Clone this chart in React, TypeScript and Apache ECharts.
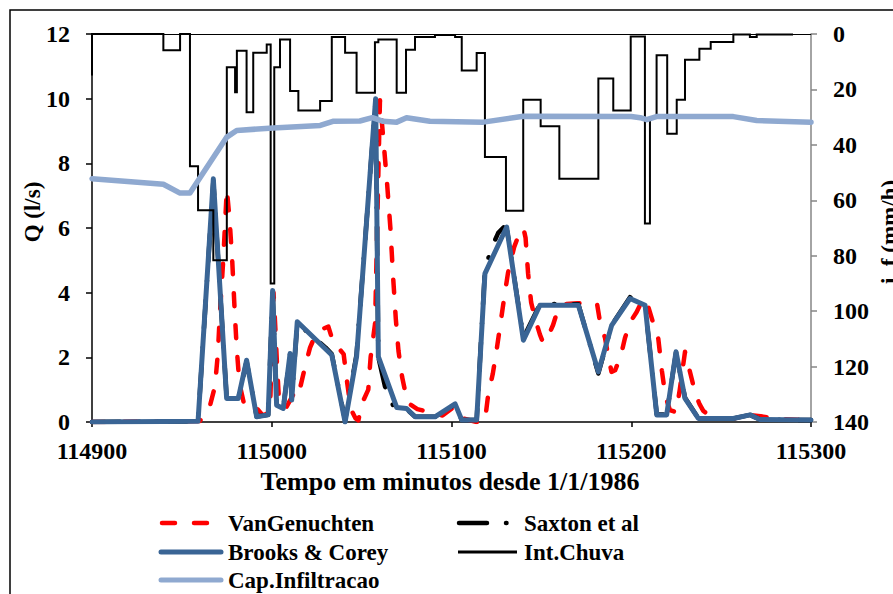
import React, { useEffect, useRef } from 'react';
import * as echarts from 'echarts';

const FONT = 'Liberation Serif, serif';

// ---- data ----
const xTicks = { min: 114900, max: 115300, interval: 100 };

const vanGenX = [114900, 114960, 114965.6, 114968.4, 114970, 114971, 114973, 114975, 114976.5, 114978, 114979.5, 114980.5, 114982, 114985, 114992, 114995, 114999, 115001, 115002, 115003, 115004, 115006, 115008, 115012, 115014.5, 115018.5, 115021.3, 115024, 115027, 115031.5, 115034, 115037, 115040, 115042, 115044, 115046.5, 115048.2, 115050, 115053.7, 115055, 115057.5, 115060.2, 115062, 115064, 115066, 115067.5, 115069, 115070.5, 115072.5, 115075.5, 115081, 115088, 115095, 115101, 115104, 115107, 115114, 115118.6, 115120.3, 115123, 115125.3, 115127, 115129.2, 115131.4, 115134.8, 115137.5, 115140, 115141.2, 115142.6, 115144.3, 115146.5, 115149.2, 115151, 115153, 115156.5, 115159.3, 115163, 115170, 115178, 115181, 115182.6, 115185.4, 115187, 115189, 115191, 115194, 115196.5, 115199.5, 115203, 115206.5, 115209, 115212, 115215, 115217, 115219, 115221.5, 115225, 115227, 115229.9, 115233.8, 115235.5, 115238, 115240, 115245, 115250, 115262, 115268, 115272, 115280, 115300];
const vanGenY = [0, 0.03, 0.5, 1.1, 2.1, 3.2, 5.0, 7.2, 6.3, 5.0, 3.3, 2.3, 1.2, 0.45, 0.4, 0.2, 0.3, 4.0, 2.9, 1.7, 0.7, 0.45, 0.45, 0.85, 0.75, 1.7, 2.3, 2.65, 2.85, 2.95, 2.5, 2.3, 2.1, 1.2, 0.4, 0.12, 0.05, 0.55, 1.0, 2.0, 3.05, 9.95, 8.8, 7.5, 6.0, 4.5, 3.2, 2.2, 1.4, 0.6, 0.4, 0.3, 0.2, 0.45, 0.4, 0.1, 0, 0.02, 0.8, 1.5, 2.3, 2.95, 3.8, 4.6, 5.4, 5.8, 6.0, 5.7, 4.6, 3.7, 3.2, 2.7, 2.45, 2.55, 3.0, 3.5, 3.65, 3.67, 3.7, 3.65, 3.1, 2.6, 2.1, 1.55, 1.6, 2.0, 2.6, 3.1, 3.4, 3.8, 3.65, 3.1, 2.6, 1.6, 0.8, 0.37, 0.3, 1.0, 2.17, 1.3, 0.9, 0.55, 0.35, 0.12, 0.1, 0.12, 0.2, 0.18, 0.1, 0.05];

const saxtonX = [114900, 114959, 114967.5, 114974.9, 114981.4, 114986, 114991.6, 114998, 115000.5, 115002.7, 115006.4, 115010.2, 115011.1, 115014.2, 115030, 115033.4, 115040.8, 115047.2, 115057.8, 115059.3, 115063, 115068, 115075, 115079.7, 115090.8, 115102, 115105.7, 115114, 115118.6, 115122, 115126, 115129, 115131, 115140, 115149.2, 115170.6, 115181.7, 115189.1, 115199.3, 115207.7, 115214.2, 115219.7, 115224.9, 115229.9, 115237.3, 115256.8, 115266.1, 115271.6, 115300];
const saxtonY = [0, 0.02, 7.45, 0.75, 0.72, 1.88, 0.17, 0.22, 4.0, 0.5, 0.43, 2.1, 0.7, 3.05, 2.3, 2.1, 0.05, 2.1, 9.95, 2.0, 1.1, 0.45, 0.4, 0.17, 0.16, 0.55, 0.06, 0.06, 4.7, 5.35, 5.85, 6.02, 5.9, 2.6, 3.65, 3.64, 1.5, 3.0, 3.86, 3.6, 0.23, 0.23, 2.15, 0.75, 0.12, 0.11, 0.22, 0.08, 0.06];

const brooksX = [114900, 114959, 114967.5, 114974.9, 114981.4, 114986, 114991.6, 114998, 115000.5, 115002.7, 115006.4, 115010.2, 115011.1, 115014.2, 115033.4, 115040.8, 115047.2, 115057.8, 115059.3, 115069.5, 115075, 115079.7, 115090.8, 115102, 115105.7, 115114, 115118.6, 115130.7, 115140, 115149.2, 115170.6, 115181.7, 115189.1, 115199.3, 115207.7, 115214.2, 115219.7, 115224.9, 115229.9, 115237.3, 115256.8, 115266.1, 115271.6, 115300];
const brooksY = [0, 0.02, 7.52, 0.73, 0.73, 1.91, 0.16, 0.22, 4.07, 0.52, 0.42, 2.12, 0.68, 3.1, 2.07, 0, 2.02, 10.0, 2.02, 0.45, 0.42, 0.16, 0.16, 0.56, 0.06, 0.06, 4.59, 6.03, 2.53, 3.61, 3.61, 1.55, 2.99, 3.82, 3.61, 0.22, 0.22, 2.17, 0.73, 0.11, 0.11, 0.22, 0.08, 0.06];

const rainX = [114900, 114900, 114939.7, 114939.7, 114949, 114949, 114954.5, 114954.5, 114959, 114959, 114967.5, 114967.5, 114975, 114975, 114979.6, 114979.6, 114980.6, 114980.6, 114986, 114986, 114989.7, 114989.7, 114997.2, 114997.2, 114999.4, 114999.4, 115001.4, 115001.4, 115004.6, 115004.6, 115010.2, 115010.2, 115014.8, 115014.8, 115026.9, 115026.9, 115033.4, 115033.4, 115040.8, 115040.8, 115047.2, 115047.2, 115057.4, 115057.4, 115059.3, 115059.3, 115069.5, 115069.5, 115074.7, 115074.7, 115079.7, 115079.7, 115090.8, 115090.8, 115102, 115102, 115105.7, 115105.7, 115114, 115114, 115118.6, 115118.6, 115130.3, 115130.3, 115139.9, 115139.9, 115149.6, 115149.6, 115160, 115160, 115181.7, 115181.7, 115190, 115190, 115199.7, 115199.7, 115207.6, 115207.6, 115210.4, 115210.4, 115214.1, 115214.1, 115220, 115220, 115225.3, 115225.3, 115229.9, 115229.9, 115237.9, 115237.9, 115244.2, 115244.2, 115256.8, 115256.8, 115266, 115266, 115269.8, 115269.8, 115290];
const rainY = [15, 0, 0, 5.9, 5.9, 0, 0, 47.7, 47.7, 63.6, 63.6, 81.6, 81.6, 12, 12, 21, 21, 6, 6, 28.2, 28.2, 6.8, 6.8, 3.8, 3.8, 90, 90, 12, 12, 2, 2, 20.6, 20.6, 27.6, 27.6, 24.2, 24.2, 1.1, 1.1, 6.8, 6.8, 21.2, 21.2, 3, 3, 2, 2, 21.2, 21.2, 5.7, 5.7, 1.1, 1.1, 0.4, 0.4, 1.1, 1.1, 13.2, 13.2, 6.9, 6.9, 44.4, 44.4, 63.8, 63.8, 23.7, 23.7, 33.3, 33.3, 52.2, 52.2, 16.1, 16.1, 27.6, 27.6, 0.9, 0.9, 68.4, 68.4, 30, 30, 7.7, 7.7, 36, 36, 23.7, 23.7, 9.3, 9.3, 5.3, 5.3, 2.9, 2.9, 0.2, 0.2, 1.1, 1.1, 0.2, 0.2];

const capX = [114900, 114939.7, 114949, 114954.5, 114975, 114980.5, 115000.7, 115027, 115034, 115049, 115056, 115062, 115069.5, 115075, 115088, 115117.7, 115140, 115200, 115205, 115208.6, 115214, 115256.8, 115269.8, 115300];
const capY = [52.2, 54.2, 57.4, 57.4, 37.2, 34.8, 33.9, 33, 31.5, 31.4, 30.2, 31.5, 31.8, 30.2, 31.5, 31.8, 29.7, 29.8, 30.2, 30.9, 29.8, 29.8, 31.2, 31.8];

const legendNames = ['VanGenuchten', 'Saxton et al', 'Brooks & Corey', 'Int.Chuva', 'Cap.Infiltracao'];

const RED = '#FF0000';
const DARKBLUE = '#3A6595';
const LIGHTBLUE = '#8FA9D0';

const zip = (xs: number[], ys: number[]) => xs.map((x, i) => [x, ys[i]]);

const labelStyle = { fontFamily: FONT, fontWeight: 'bold' as const, fontSize: 24, color: '#000' };

function legendKey(x1: number, x2: number, y: number, style: any) {
  return {
    type: 'line',
    silent: true,
    shape: { x1, y1: y, x2, y2: y },
    style: { fill: 'none', ...style },
  };
}
function legendLabel(text: string, x: number, y: number) {
  return {
    type: 'text',
    silent: true,
    x,
    y,
    style: {
      text,
      fontFamily: FONT,
      fontWeight: 'bold',
      fontSize: 23,
      fill: '#000',
      textAlign: 'left',
      textVerticalAlign: 'middle',
      align: 'left',
      verticalAlign: 'middle',
    },
  };
}

export default function App() {
  const ref = useRef<HTMLDivElement>(null);
  useEffect(() => {
    const chart = echarts.init(ref.current!, null, { renderer: 'svg' });
    const option: any = {
      animation: false,
      backgroundColor: '#fff',
      grid: { left: 92, right: 82, top: 34, bottom: 172, containLabel: false },
      xAxis: [
        {
          type: 'value',
          min: xTicks.min,
          max: xTicks.max,
          interval: xTicks.interval,
          axisLine: { show: true, lineStyle: { color: '#000', width: 1.5 } },
          axisTick: { show: true, inside: false, length: 5, lineStyle: { color: '#000', width: 1.5 } },
          axisLabel: { ...labelStyle, margin: 17, formatter: (v: number) => String(v) },
          splitLine: { show: false },
        },
        {
          type: 'value',
          position: 'top',
          min: xTicks.min,
          max: xTicks.max,
          axisLine: { show: true, onZero: false, lineStyle: { color: '#000', width: 1.2 } },
          axisTick: { show: false },
          axisLabel: { show: false },
          splitLine: { show: false },
        },
      ],
      yAxis: [
        {
          type: 'value',
          min: 0,
          max: 12,
          interval: 2,
          axisLine: { show: true, lineStyle: { color: '#000', width: 1.5 } },
          axisTick: { show: true, length: 6, lineStyle: { color: '#000', width: 1.5 } },
          axisLabel: { ...labelStyle, margin: 22 },
          splitLine: { show: false },
        },
        {
          type: 'value',
          position: 'right',
          inverse: true,
          min: 0,
          max: 140,
          interval: 20,
          axisLine: { show: true, lineStyle: { color: '#868686', width: 1.5 } },
          axisTick: { show: true, length: 6, lineStyle: { color: '#868686', width: 1.5 } },
          axisLabel: { ...labelStyle, margin: 22 },
          splitLine: { show: false },
        },
      ],
      series: [
        {
          name: legendNames[0],
          type: 'line',
          data: zip(vanGenX, vanGenY),
          symbol: 'none',
          xAxisIndex: 0,
          yAxisIndex: 0,
          lineStyle: { color: RED, width: 4.5, type: [13, 19], cap: 'round', join: 'round' },
          itemStyle: { color: RED },
        },
        {
          name: legendNames[1],
          type: 'line',
          data: zip(saxtonX, saxtonY),
          symbol: 'none',
          xAxisIndex: 0,
          yAxisIndex: 0,
          lineStyle: { color: '#000', width: 4.5, type: [28, 19, 0.5, 19], cap: 'round', join: 'round' },
          itemStyle: { color: '#000' },
        },
        {
          name: legendNames[2],
          type: 'line',
          data: zip(brooksX, brooksY),
          symbol: 'none',
          xAxisIndex: 0,
          yAxisIndex: 0,
          lineStyle: { color: DARKBLUE, width: 5, cap: 'round', join: 'round' },
          itemStyle: { color: DARKBLUE },
        },
        {
          name: legendNames[3],
          type: 'line',
          data: zip(rainX, rainY),
          symbol: 'none',
          xAxisIndex: 0,
          yAxisIndex: 1,
          lineStyle: { color: '#000', width: 2, join: 'miter' },
          itemStyle: { color: '#000' },
        },
        {
          name: legendNames[4],
          type: 'line',
          data: zip(capX, capY),
          symbol: 'none',
          xAxisIndex: 0,
          yAxisIndex: 1,
          lineStyle: { color: LIGHTBLUE, width: 5.5, cap: 'round', join: 'round' },
          itemStyle: { color: LIGHTBLUE },
        },
      ],
      graphic: [
        {
          type: 'rect',
          shape: { x: 10, y: 10, width: 900, height: 600 },
          style: { fill: 'none', stroke: '#000', lineWidth: 1.5 },
          silent: true,
          z: -1,
        },
        {
          type: 'text',
          x: 32,
          y: 212,
          rotation: Math.PI / 2,
          style: { text: 'Q (l/s)', fontFamily: FONT, fontWeight: 'bold', fontSize: 23, fill: '#000', textAlign: 'center', textVerticalAlign: 'middle', align: 'center', verticalAlign: 'middle' },
        },
        {
          type: 'text',
          x: 889,
          y: 232,
          rotation: Math.PI / 2,
          style: { text: 'i, f (mm/h)', fontFamily: FONT, fontWeight: 'bold', fontSize: 23, fill: '#000', textAlign: 'center', textVerticalAlign: 'middle', align: 'center', verticalAlign: 'middle' },
        },
        {
          type: 'text',
          x: 450,
          y: 481,
          style: { text: 'Tempo em minutos desde 1/1/1986', fontFamily: FONT, fontWeight: 'bold', fontSize: 26, fill: '#000', textAlign: 'center', textVerticalAlign: 'middle', align: 'center', verticalAlign: 'middle' },
        },
        legendKey(162, 210, 523, { stroke: RED, lineWidth: 4.5, lineDash: [13, 19], lineCap: 'round' }),
        legendLabel(legendNames[0], 228, 523),
        legendKey(459, 512, 523, { stroke: '#000', lineWidth: 4.5, lineDash: [28, 19, 0.5, 19], lineCap: 'round' }),
        legendLabel(legendNames[1], 524, 523),
        legendKey(161, 221, 552, { stroke: DARKBLUE, lineWidth: 5, lineCap: 'round' }),
        legendLabel(legendNames[2], 228, 552),
        legendKey(458, 517, 552, { stroke: '#000', lineWidth: 3 }),
        legendLabel(legendNames[3], 524, 552),
        legendKey(161, 221, 580, { stroke: LIGHTBLUE, lineWidth: 5, lineCap: 'round' }),
        legendLabel(legendNames[4], 228, 580),
      ],
    };
    chart.setOption(option);
    return () => chart.dispose();
  }, []);
  return (
    <div
      ref={ref}
      style={{ position: 'fixed', left: 0, top: 0, width: 893, height: 594, background: '#fff' }}
    />
  );
}
